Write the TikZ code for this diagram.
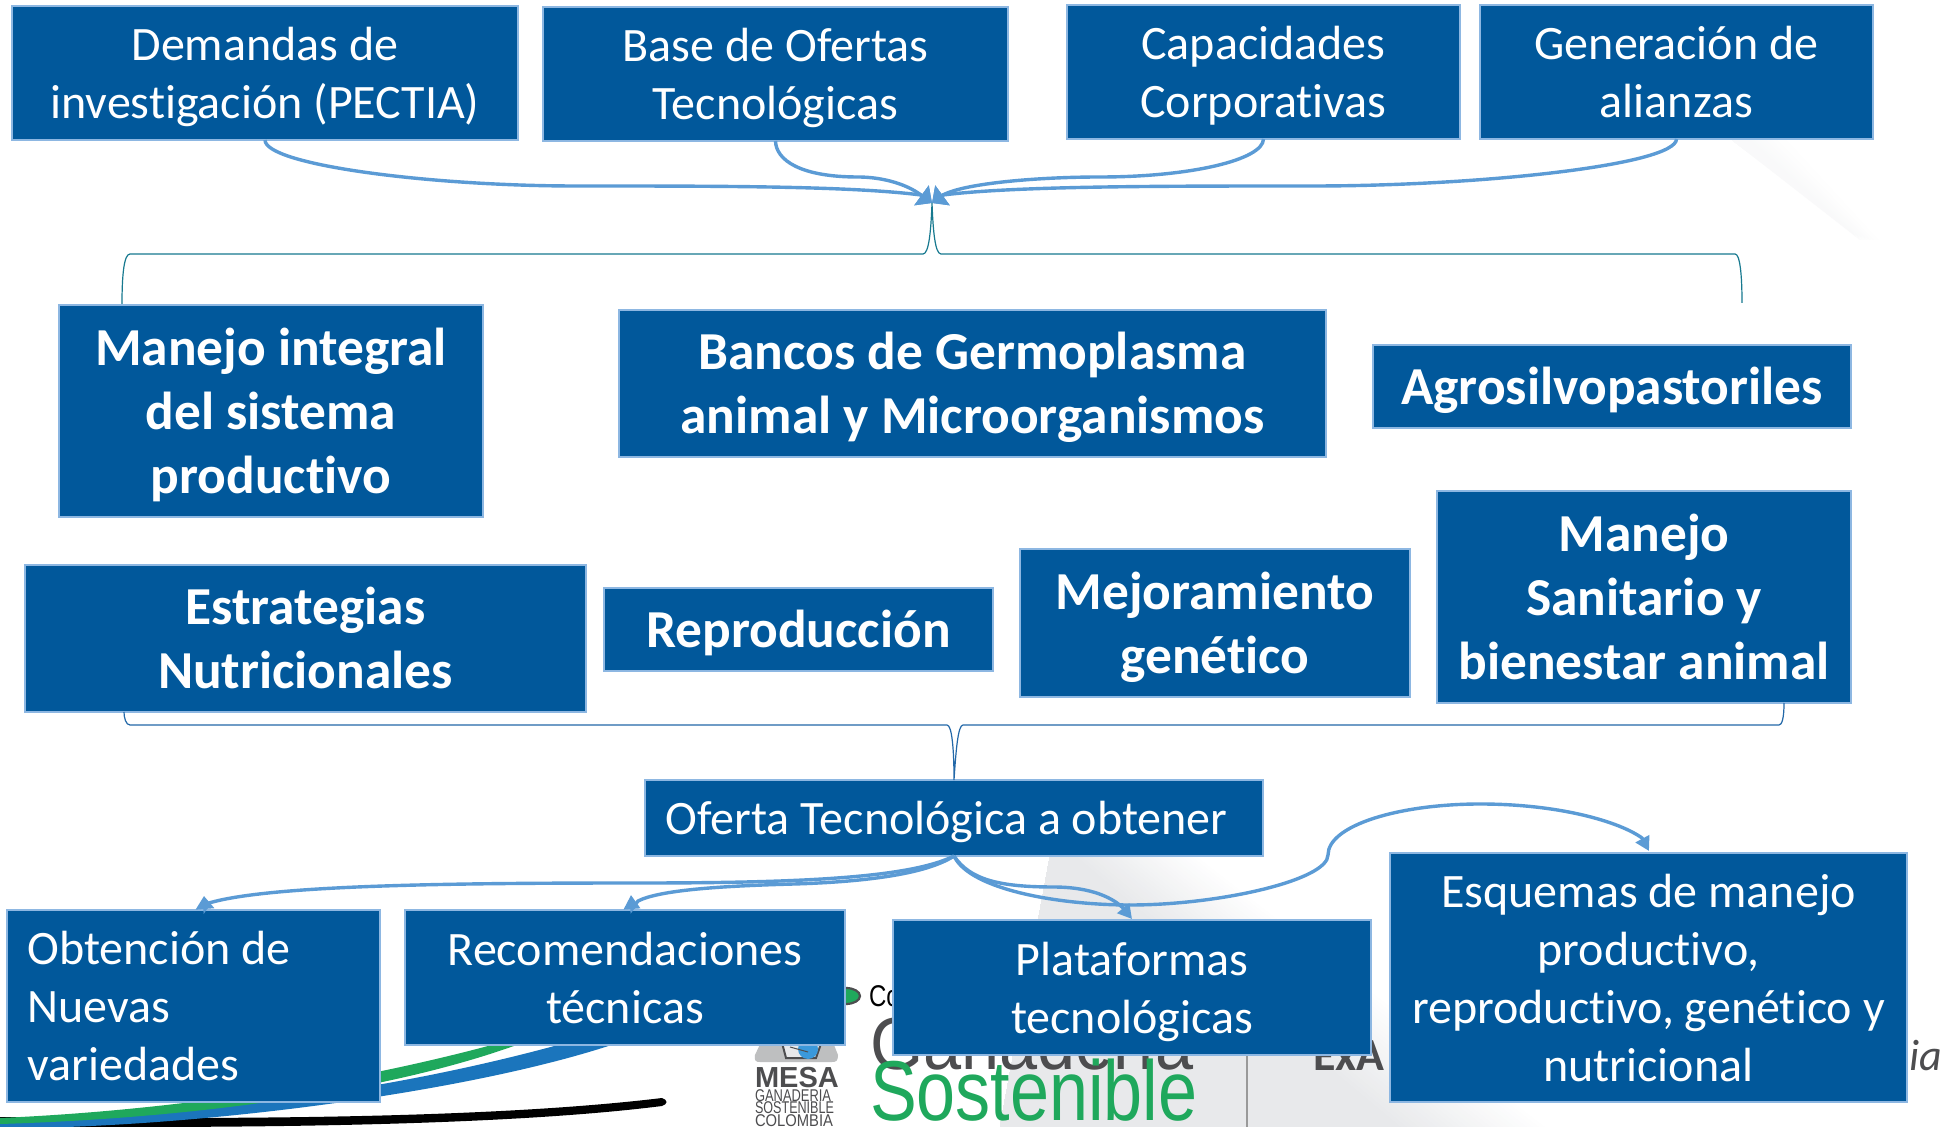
\documentclass[tikz,border=0pt]{standalone}
\usepackage{fontspec}
\setmainfont{Carlito}[Ligatures=NoCommon]
\newfontfamily\logofont{Liberation Sans}
\usetikzlibrary{arrows.meta}
\definecolor{boxblue}{HTML}{01589B}
\definecolor{boxedge}{HTML}{8DB7E2}
\definecolor{arrowblue}{HTML}{5B9BD5}
\definecolor{braceteal}{HTML}{17798F}
\definecolor{bracenavy}{HTML}{2368A8}
\definecolor{logogreen}{HTML}{1FA85C}
\definecolor{logoblue}{HTML}{1B75BC}
\definecolor{logogray}{HTML}{4D4D4F}
\definecolor{wedgegray}{HTML}{E8E9EB}
\newcommand{\linestrut}{\rule[-5.5pt]{0pt}{27.5pt}}
\newcommand{\boldstrut}{\rule[-4.7pt]{0pt}{27.5pt}}
\tikzset{
  x=0.5pt,y=-0.5pt,
  basebox/.style={draw=boxedge,fill=boxblue,line width=1.2pt,text=white,inner sep=0pt,outer sep=0pt,align=flush center},
  regbox/.style={basebox,font=\fontsize{24}{29}\selectfont,execute at begin node=\linestrut,execute at end node=\linestrut},
  boldbox/.style={basebox,font=\fontsize{26.7}{32}\selectfont\bfseries,execute at begin node=\boldstrut,execute at end node=\boldstrut},
  flow/.style={draw=arrowblue,line width=1.7pt,-{Triangle[length=6.5pt,width=12pt]}},
  flowsmall/.style={draw=arrowblue,line width=1.7pt,-{Triangle[length=7pt,width=7.5pt]}},
  brace/.style={line width=0.6pt},
  logotext/.style={inner sep=0pt,outer sep=0pt,anchor=base west,font=\logofont},
}
\begin{document}
\begin{tikzpicture}
\path[use as bounding box,fill=white] (0,0) rectangle (1944,1127);
% background wedges
\foreach \i in {24,...,0}{
  \pgfmathsetmacro{\mix}{100-4*\i}
  \fill[wedgegray!\mix!white] (1050,856) -- (1000,1127) -- ({1400+6*\i},1127) -- ({1075+5*\i},856) -- cycle;
}
\foreach \i in {12,...,0}{
  \pgfmathsetmacro{\mix}{26-2*\i}
  \fill[wedgegray!\mix!white] (1732,140) -- ({1750+3*\i},140) -- ({1860+1.5*\i},240) -- cycle;
}
% logo swooshes
\fill[black] (0,1117) .. controls (200,1119) and (480,1120) .. (662,1098) .. controls (668,1100) and (668,1104) .. (662,1106) .. controls (520,1124) and (300,1127) .. (130,1127) -- (0,1127) -- cycle;
\fill[logoblue] (0,1127) -- (0,1122) .. controls (200,1116) and (400,1090) .. (576,1040) -- (626,1040) .. controls (500,1085) and (260,1120) .. (67,1127) -- cycle;
\fill[logogreen] (0,1124) -- (0,1118) .. controls (180,1110) and (360,1082) .. (510,1040) -- (530,1040) .. controls (400,1090) and (200,1118) .. (0,1124) -- cycle;
% logo pieces
\fill[wedgegray!60!gray] (762,1040) -- (832,1040) -- (838,1055) .. controls (838,1061) and (836,1062) .. (832,1062) -- (760,1062) .. controls (756,1062) and (754,1061) .. (755,1055) -- cycle;
\draw[logogray,line width=1pt,fill=wedgegray] (780,1035) -- (786,1058) -- (816,1058) -- (824,1035);
\fill[cyan!70!blue!80] (808,1049) circle[radius=10];
\draw[logogray,line width=0.5pt] (790,1047) -- (808,1052);
\node[logotext,font=\logofont\bfseries\fontsize{14.5}{14.5}\selectfont,text=logogray] (mesa) at (755,1087) {MESA};
\node[logotext,text=logogray] (mesaa) at (755,1101) {\scalebox{.76}[1]{\fontsize{8.5}{8.5}\selectfont GANADERIA}};
\node[logotext,text=logogray] (mesab) at (755,1113) {\scalebox{.74}[1]{\fontsize{8.5}{8.5}\selectfont SOSTENIBLE}};
\node[logotext,text=logogray] (mesac) at (755,1126) {\scalebox{.87}[1]{\fontsize{8.5}{8.5}\selectfont COLOMBIA}};
\draw[logogray,line width=1.1pt,fill=logogreen] (846,996) ellipse[x radius=14,y radius=8];
\node[logotext,text=black] (coo) at (869,1006) {\scalebox{.8}[1]{\fontsize{15}{15}\selectfont Co}};
\node[logotext,text=logogray] (gana) at (870,1069) {\scalebox{.925}[1]{\fontsize{37}{37}\selectfont Ganadería}};
\node[logotext,text=logogreen] (sost) at (870,1120) {\scalebox{.825}[1]{\fontsize{42.5}{42.5}\selectfont Sostenible}};
\draw[gray!80,line width=0.6pt] (1247,1055) -- (1247,1127);
\node[inner sep=0pt,anchor=base west,font=\fontsize{23}{23}\selectfont\bfseries,text=logogray] (exa) at (1313,1070) {ExA};
\node[inner sep=0pt,anchor=base west,font=\fontsize{22}{22}\selectfont\itshape,text=logogray] (ia) at (1909,1070) {ia};

% boxes
\node[regbox,minimum width=253pt,minimum height=67pt,text width=249pt] (dem) at (265,73) {Demandas de\\investigación (PECTIA)};
\node[regbox,minimum width=232.5pt,minimum height=67pt,text width=228pt] (bas) at (775.5,74) {Base de Ofertas\\Tecnológicas};
\node[regbox,minimum width=196.5pt,minimum height=67pt,text width=192pt] (cap) at (1263.5,72) {Capacidades\\Corporativas};
\node[regbox,minimum width=196.5pt,minimum height=67pt,text width=192pt] (gen) at (1676.5,72) {Generación de\\alianzas};
\node[boldbox,minimum width=212pt,minimum height=106pt,text width=208pt] (mi) at (271,411) {Manejo integral\\del sistema\\productivo};
\node[boldbox,minimum width=353.5pt,minimum height=73.5pt,text width=349pt] (ban) at (972.5,383.5) {Bancos de Germoplasma\\animal y Microorganismos};
\node[boldbox,minimum width=239pt,minimum height=41.5pt,text width=235pt] (agr) at (1612,386.5) {Agrosilvopastoriles};
\node[boldbox,minimum width=280.5pt,minimum height=73.5pt,text width=276pt] (est) at (305.5,638.5) {Estrategias\\Nutricionales};
\node[boldbox,minimum width=194.5pt,minimum height=41.5pt,text width=190pt] (rep) at (798.5,629.5) {Reproducción};
\node[boldbox,minimum width=195pt,minimum height=74pt,text width=191pt] (mej) at (1215,623) {Mejoramiento\\genético};
\node[boldbox,minimum width=207pt,minimum height=106pt,text width=203pt] (san) at (1644,597) {Manejo\\Sanitario y\\bienestar animal};
\node[regbox,minimum width=309pt,minimum height=38pt,text width=305pt] (ofe) at (954,818) {Oferta Tecnológica a obtener\hspace*{7.5pt}};
\node[regbox,minimum width=186.5pt,minimum height=96pt,align=flush left,text width=166pt] (obt) at (193.5,1006) {Obtención de\\Nuevas\\variedades};
\node[regbox,minimum width=220pt,minimum height=67.5pt,text width=216pt] (rec) at (625,977.5) {Recomendaciones\\técnicas};
\node[regbox,minimum width=239pt,minimum height=67.5pt,text width=235pt] (pla) at (1132,987.5) {Plataformas\\tecnológicas};
\node[regbox,minimum width=258.5pt,minimum height=124.5pt,text width=254pt] (esq) at (1648.5,977.5) {Esquemas de manejo\\productivo,\\reproductivo, genético y\\nutricional};

% free ends
\coordinate (conv) at (932,203);
\coordinate (topl) at (122,304);
\coordinate (topr) at (1742,303);
\coordinate (botl) at (124,712);
\coordinate (botr) at (1784,703);
\coordinate (obtin) at (205,909);
\coordinate (obttip) at (204,896);
\coordinate (recin) at (632,909);
\coordinate (rectip) at (631,895);
\coordinate (platip) at (1132,919);
\coordinate (esqtip) at (1649,851);

% connectors into the convergence
\draw[flow] (dem.south) .. controls (265,165) and (430,186) .. (576,186) .. controls (720,186) and (850,186) .. (921,195) -- (conv);
\draw[flow] (bas.south) .. controls (776,160) and (800,177) .. (858,177) .. controls (880,177) and (905,183) .. (921,195) -- (conv);
\draw[flow] (cap.south) .. controls (1263,160) and (1190,177) .. (1100,177) .. controls (1040,177) and (965,183) .. (943,195) -- (conv);
\draw[flow] (gen.south) .. controls (1676,165) and (1480,186) .. (1313,186) .. controls (1160,186) and (1015,186) .. (943,195) -- (conv);
% braces
\draw[brace,draw=braceteal] (topl) .. controls (122,275) and (124,254) .. (130,254) -- (923,254) .. controls (929,254) and (931,230) .. (conv) .. controls (933,230) and (935,254) .. (941,254) -- (1735,254) .. controls (1740,254) and (1742,275) .. (topr);
\draw[brace,draw=bracenavy] (botl) .. controls (124,718) and (126,725) .. (130,725) -- (947,725) .. controls (952,725) and (954,750) .. (ofe.north) .. controls (956,750) and (958,725) .. (963,725) -- (1779,725) .. controls (1782,725) and (1784,718) .. (botr);
% connectors out of the offer box
\draw[flow,-{Triangle[length=6.5pt,width=9pt]}] (ofe.south) .. controls (910,878) and (800,883) .. (640,883) .. controls (450,883) and (270,885) .. (209,903) -- (obtin) -- (obttip);
\draw[flow,-{Triangle[length=7pt,width=8pt]}] (ofe.south) .. controls (925,875) and (860,882) .. (794,884) .. controls (720,886) and (660,890) .. (638,901) -- (recin) -- (rectip);
\draw[flowsmall] (ofe.south) .. controls (970,880) and (1000,887) .. (1054,887) .. controls (1085,887) and (1110,895) .. (1123,908) -- (platip);
\draw[flowsmall] (ofe.south) .. controls (970,890) and (1060,905) .. (1130,905) .. controls (1220,905) and (1328,880) .. (1328,855) .. controls (1328,825) and (1400,804) .. (1480,804) .. controls (1560,804) and (1620,822) .. (1642,838) -- (esqtip);
\end{tikzpicture}
\end{document}
